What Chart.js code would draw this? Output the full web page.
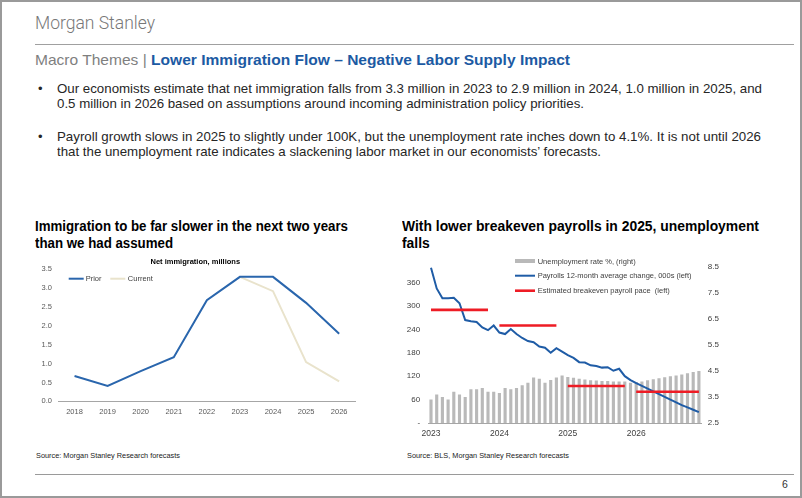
<!DOCTYPE html>
<html>
<head>
<meta charset="utf-8">
<script src="https://cdn.jsdelivr.net/npm/chart.js@4.4.1/dist/chart.umd.min.js"></script>
<style>
  html, body { margin:0; padding:0; background:#fff; }
  #page { position:relative; width:802px; height:498px; overflow:hidden; box-sizing:border-box; border:2px solid #9a9a9a; font-family:"Liberation Sans", Arial, sans-serif; }
  .t { position:absolute; white-space:nowrap; line-height:1; transform-origin:0 0; display:inline-block; }
  .rule { position:absolute; height:0; border-top:1px solid #a6a6a6; }
  .box { position:absolute; }
</style>
</head>
<body>
<script>
// ---------------- DATA ----------------
const immYears   = ['2018','2019','2020','2021','2022','2023','2024','2025','2026'];
const immPrior   = [0.67, 0.41, 0.80, 1.17, 2.68, 3.30, 3.30, 2.61, 1.79];
const immCurrent = [null, null, null, null, null, 3.30, 2.92, 1.04, 0.53];
const immTicks   = [0, 0.5, 1.0, 1.5, 2.0, 2.5, 3.0, 3.5];

const months = [
  '2023-01','2023-02','2023-03','2023-04','2023-05','2023-06','2023-07','2023-08','2023-09','2023-10','2023-11','2023-12',
  '2024-01','2024-02','2024-03','2024-04','2024-05','2024-06','2024-07','2024-08','2024-09','2024-10','2024-11','2024-12',
  '2025-01','2025-02','2025-03','2025-04','2025-05','2025-06','2025-07','2025-08','2025-09','2025-10','2025-11','2025-12',
  '2026-01','2026-02','2026-03','2026-04','2026-05','2026-06','2026-07','2026-08','2026-09','2026-10','2026-11','2026-12'];
const unemployment = [
  3.4, 3.6, 3.5, 3.4, 3.7, 3.6, 3.5, 3.8, 3.8, 3.85, 3.7, 3.7,
  3.65, 3.85, 3.8, 3.85, 3.95, 4.05, 4.25, 4.2, 4.05, 4.15, 4.25, 4.33,
  4.27, 4.24, 4.2, 4.17, 4.14, 4.13, 4.12, 4.12, 4.1, 4.1, 4.1, 4.05,
  4.08, 4.1, 4.14, 4.18, 4.22, 4.26, 4.3, 4.33, 4.37, 4.41, 4.46, 4.5];
const payrolls = [
  398, 345, 320, 320, 321, 307, 264, 261, 259, 245, 238, 250,
  232, 228, 241, 228, 218, 210, 207, 196, 193, 180, 192, 183,
  174, 167, 156, 155, 148, 146, 142, 143, 134, 139, 120, 110,
  102, 95, 88, 81, 74, 67, 60, 53, 46, 40, 34, 28];
const breakeven = [
  290, 290, 290, 290, 290, 290, 290, 290, 290, 290, 290, null,
  250, 250, 250, 250, 250, 250, 250, 250, 250, 250, 250, null,
  95, 95, 95, 95, 95, 95, 95, 95, 95, 95, 95, null,
  80, 80, 80, 80, 80, 80, 80, 80, 80, 80, 80, 80];
const leftTicks  = [0, 60, 120, 180, 240, 300, 360];
const rightTicks = [2.5, 3.5, 4.5, 5.5, 6.5, 7.5, 8.5];
const yearLabels = ['2023', '2024', '2025', '2026'];

const seriesNames = {
  prior: 'Prior', current: 'Current',
  unemp: 'Unemployment rate %, (right)',
  payroll: 'Payrolls 12-month average change, 000s (left)',
  breakeven: 'Estimated breakeven payroll pace  (left)'
};
</script>

<div id="page">
  <span class="t" data-w="120" style="left:33px;top:10.5px;font-family:Roboto,'Liberation Sans',sans-serif;font-weight:300;font-size:19px;color:#787878;">Morgan Stanley</span>
  <div class="rule" style="left:33px;top:42px;width:759px;border-top-color:#a0a0a0;"></div>

  <span class="t" data-w="535" style="left:33px;top:49.5px;font-size:15px;"><span style="color:#7f7f7f;">Macro Themes | </span><b style="color:#1c5aa3;">Lower Immigration Flow – Negative Labor Supply Impact</b></span>

  <span class="t" style="left:36px;top:79.5px;font-size:13px;color:#262626;">•</span>
  <span class="t" data-w="705" style="left:55px;top:79.5px;font-size:13px;color:#262626;">Our economists estimate that net immigration falls from 3.3 million in 2023 to 2.9 million in 2024, 1.0 million in 2025, and</span>
  <span class="t" data-w="527" style="left:55px;top:94.5px;font-size:13px;color:#262626;">0.5 million in 2026 based on assumptions around incoming administration policy priorities.</span>

  <span class="t" style="left:36px;top:128px;font-size:13px;color:#262626;">•</span>
  <span class="t" data-w="704" style="left:55px;top:128px;font-size:13px;color:#262626;">Payroll growth slows in 2025 to slightly under 100K, but the unemployment rate inches down to 4.1%. It is not until 2026</span>
  <span class="t" data-w="544" style="left:55px;top:143px;font-size:13px;color:#262626;">that the unemployment rate indicates a slackening labor market in our economists’ forecasts.</span>

  <span class="t" id="lt1" data-w="313" style="left:33px;top:216.5px;font-size:14px;font-weight:bold;color:#000;">Immigration to be far slower in the next two years</span>
  <span class="t" data-ref="lt1" style="left:33px;top:233.5px;font-size:14px;font-weight:bold;color:#000;">than we had assumed</span>

  <span class="t" id="rt1" data-w="357" style="left:400px;top:216.5px;font-size:14px;font-weight:bold;color:#000;">With lower breakeven payrolls in 2025, unemployment</span>
  <span class="t" data-ref="rt1" style="left:400px;top:233.5px;font-size:14px;font-weight:bold;color:#000;">falls</span>

  <div class="box" style="left:30px;top:250px;width:330px;height:190px;"><canvas id="c1"></canvas></div>
  <div class="box" style="left:395px;top:250px;width:340px;height:190px;"><canvas id="c2"></canvas></div>

  <span class="t" data-w="144" style="left:34px;top:449.5px;font-size:7.5px;color:#222;">Source: Morgan Stanley Research forecasts</span>
  <span class="t" data-w="162" style="left:405px;top:449.5px;font-size:7.5px;color:#222;">Source: BLS, Morgan Stanley Research forecasts</span>

  <div class="rule" style="left:33px;top:472px;width:759px;border-top-color:#9a9a9a;"></div>
  <span class="t" style="left:780px;top:477px;font-size:10.5px;color:#333;">6</span>
</div>

<script>
// squeeze text horizontally to the measured widths
document.querySelectorAll('.t[data-w]').forEach(el => {
  const w = el.getBoundingClientRect().width;
  const s = parseFloat(el.dataset.w) / w;
  el.dataset.s = s;
  el.style.transform = 'scaleX(' + s + ')';
});
document.querySelectorAll('.t[data-ref]').forEach(el => {
  const s = document.getElementById(el.dataset.ref).dataset.s;
  el.style.transform = 'scaleX(' + s + ')';
});

Chart.defaults.font.family = '"Liberation Sans", Arial, sans-serif';
Chart.defaults.animation = false;

const overlay = {
  id: 'overlay',
  afterDraw(chart, args, opts) {
    const ctx = chart.ctx;
    ctx.save();
    if (opts.title) {
      ctx.font = opts.title.font;
      ctx.fillStyle = '#000';
      ctx.textAlign = 'center';
      ctx.textBaseline = 'middle';
      ctx.fillText(opts.title.text, opts.title.x, opts.title.y);
    }
    (opts.items || []).forEach(it => {
      const ds = chart.data.datasets[it.ds];
      ctx.textAlign = 'left';
      ctx.textBaseline = 'middle';
      if (it.kind === 'bar') {
        ctx.fillStyle = ds.backgroundColor;
        ctx.fillRect(it.x, it.y - 2, it.len, 4);
      } else {
        ctx.strokeStyle = ds.borderColor;
        ctx.lineWidth = it.lw;
        ctx.beginPath();
        ctx.moveTo(it.x, it.y);
        ctx.lineTo(it.x + it.len, it.y);
        ctx.stroke();
      }
      ctx.font = it.font;
      ctx.fillStyle = '#404040';
      ctx.fillText(ds.label, it.x + it.len + it.gap, it.y + 0.5);
    });
    ctx.restore();
  }
};

// ---------- Left chart: net immigration ----------
new Chart(document.getElementById('c1'), {
  type: 'line',
  data: {
    labels: immYears,
    datasets: [
      { label: seriesNames.prior, data: immPrior, borderColor: '#2a66ad', borderWidth: 2, pointRadius: 0, tension: 0, order: 1 },
      { label: seriesNames.current, data: immCurrent, borderColor: '#e9e3cc', borderWidth: 2, pointRadius: 0, tension: 0, order: 2 }
    ]
  },
  options: {
    responsive: true, maintainAspectRatio: false, devicePixelRatio: 1,
    layout: { padding: { top: 17.3, right: 6.3, left: 0, bottom: 0 } },
    plugins: {
      legend: { display: false }, tooltip: { enabled: false },
      overlay: {
        title: { text: 'Net immigration, millions', x: 163.3, y: 10, font: 'bold 7.5px "Liberation Sans", Arial' },
        items: [
          { ds: 0, x: 36.7, y: 26.7, len: 15, lw: 2, gap: 2, font: '7.5px "Liberation Sans", Arial' },
          { ds: 1, x: 78.3, y: 26.7, len: 15, lw: 2, gap: 2.5, font: '7.5px "Liberation Sans", Arial' }
        ]
      }
    },
    scales: {
      x: {
        offset: true,
        grid: { display: false, drawTicks: false },
        border: { display: true, color: '#a6a6a6', width: 1 },
        ticks: { color: '#595959', font: { size: 7.5 }, padding: 6, maxRotation: 0, autoSkip: false },
        afterFit: s => { s.height = 40.7; }
      },
      y: {
        min: 0, max: 3.5,
        grid: { display: false, drawTicks: false },
        border: { display: false },
        afterBuildTicks: s => { s.ticks = immTicks.map(v => ({ value: v })); },
        ticks: { color: '#595959', font: { size: 7.5 }, padding: 6, callback: v => v.toFixed(1) },
        afterFit: s => { s.width = 26; }
      }
    }
  },
  plugins: [overlay]
});

// ---------- Right chart: payrolls & unemployment ----------
new Chart(document.getElementById('c2'), {
  type: 'bar',
  data: {
    labels: months,
    datasets: [
      { type: 'bar', label: seriesNames.unemp, data: unemployment, yAxisID: 'y2', backgroundColor: '#b9b9b9', categoryPercentage: 1, barPercentage: 0.55, order: 3 },
      { type: 'line', label: seriesNames.payroll, data: payrolls, yAxisID: 'y', borderColor: '#1f5ca6', borderWidth: 2, pointRadius: 0, tension: 0, order: 2 },
      { type: 'line', label: seriesNames.breakeven, data: breakeven, yAxisID: 'y', borderColor: '#ee1c25', borderWidth: 2.6, pointRadius: 0, tension: 0, spanGaps: false, order: 1 }
    ]
  },
  options: {
    responsive: true, maintainAspectRatio: false, devicePixelRatio: 1,
    layout: { padding: { top: 15, right: 0, left: 0, bottom: 0 } },
    plugins: {
      legend: { display: false }, tooltip: { enabled: false },
      overlay: {
        items: [
          { ds: 0, kind: 'bar', x: 118, y: 9, len: 20, lw: 4, gap: 2.7, font: '7.5px "Liberation Sans", Arial' },
          { ds: 1, x: 118, y: 23.7, len: 20, lw: 2, gap: 2.7, font: '7.5px "Liberation Sans", Arial' },
          { ds: 2, x: 118, y: 38.7, len: 20, lw: 2.6, gap: 2.7, font: '7.5px "Liberation Sans", Arial' }
        ]
      }
    },
    scales: {
      x: {
        offset: true,
        grid: { display: false, drawTicks: false },
        border: { display: true, color: '#a6a6a6', width: 1 },
        ticks: {
          color: '#404040', font: { size: 8.5 }, padding: 6, maxRotation: 0, autoSkip: false,
          callback: (v, i) => (i % 12 === 0 ? yearLabels[i / 12] : null)
        },
        afterFit: s => { s.height = 19; }
      },
      y: {
        position: 'left', min: 0, max: 400,
        grid: { display: false, drawTicks: false },
        border: { display: false },
        afterBuildTicks: s => { s.ticks = leftTicks.map(v => ({ value: v })); },
        ticks: { color: '#404040', font: { size: 8 }, padding: 8, callback: v => (v === 0 ? '-' : String(v)) },
        afterFit: s => { s.width = 31.15; }
      },
      y2: {
        position: 'right', min: 2.5, max: 8.5,
        grid: { display: false, drawTicks: false },
        border: { display: false },
        afterBuildTicks: s => { s.ticks = rightTicks.map(v => ({ value: v })); },
        ticks: { color: '#404040', font: { size: 8 }, padding: 6, callback: v => v.toFixed(1) },
        afterFit: s => { s.width = 35.25; }
      }
    }
  },
  plugins: [overlay]
});
</script>
</body>
</html>
